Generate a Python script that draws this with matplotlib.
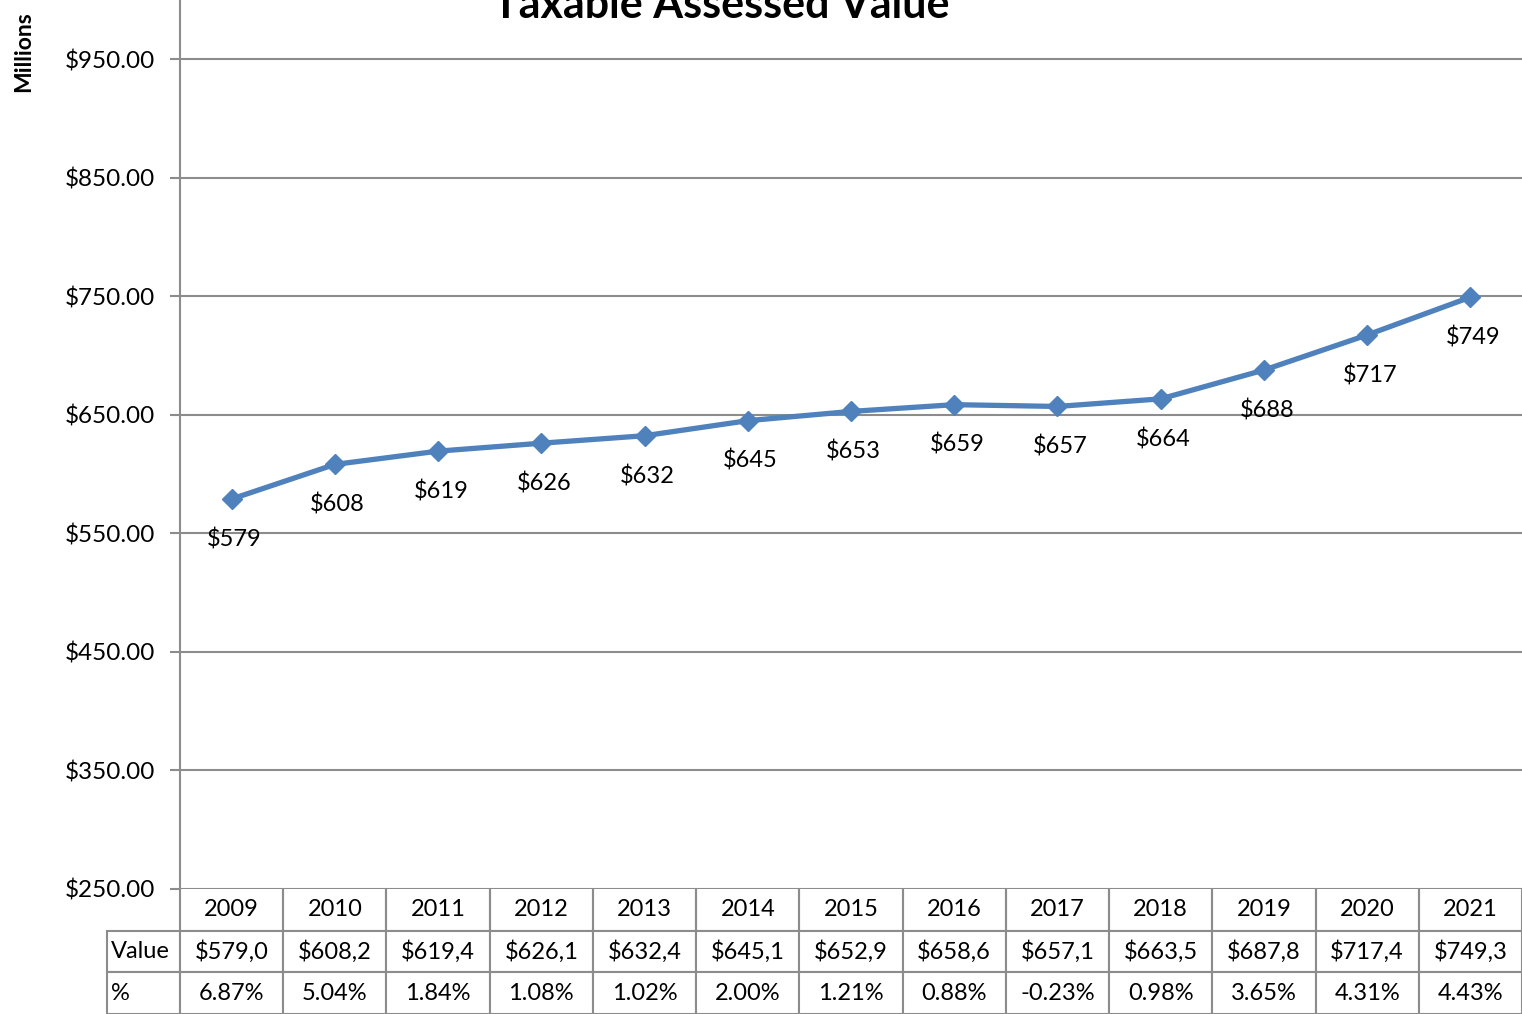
import matplotlib
matplotlib.use("Agg")
import matplotlib.pyplot as plt

years = ["2009", "2010", "2011", "2012", "2013", "2014", "2015", "2016",
         "2017", "2018", "2019", "2020", "2021"]
values = [579.0, 608.2, 619.4, 626.1, 632.4, 645.1, 652.9, 658.6,
          657.1, 663.5, 687.8, 717.4, 749.3]
value_text = ["$579,0", "$608,2", "$619,4", "$626,1", "$632,4", "$645,1", "$652,9",
              "$658,6", "$657,1", "$663,5", "$687,8", "$717,4", "$749,3"]
pct_text = ["6.87%", "5.04%", "1.84%", "1.08%", "1.02%", "2.00%", "1.21%",
            "0.88%", "-0.23%", "0.98%", "3.65%", "4.31%", "4.43%"]
yticks = [250, 350, 450, 550, 650, 750, 850, 950]

FONT = "Lato"
plt.rcParams["font.family"] = [FONT, "DejaVu Sans"]

W, H = 1522, 1014
fig = plt.figure(figsize=(W / 100, H / 100), dpi=100)
ax_left, ax_right = 180 / W, 1.0
ax_bottom, ax_top = (H - 889) / H, 1.0
ax = fig.add_axes([ax_left, ax_bottom, ax_right - ax_left, ax_top - ax_bottom])

x = list(range(len(years)))
line_color = "#4F81BD"
grid_color = "#8C8C8C"
ax.plot(x, values, color=line_color, lw=3.8, marker="D", ms=10,
        markerfacecolor=line_color, markeredgecolor=line_color, zorder=3,
        solid_joinstyle="round")
for xi, v in zip(x, values):
    ax.annotate(f"${v:.0f}", (xi, v), xytext=(2, -29), textcoords="offset points",
                ha="center", va="center", fontsize=17, color="black")

ax.set_xlim(-0.5, len(years) - 0.5)
ax.set_ylim(250, 1000)
ax.set_yticks(yticks)
ax.set_yticklabels([f"${t:.2f}" for t in yticks], fontsize=17.5)
ax.yaxis.grid(True, color=grid_color, lw=1.5)
ax.set_axisbelow(True)
ax.set_xticks([])
ax.tick_params(axis="y", length=7, width=1.5, color=grid_color, pad=11)
for s in ["top", "right", "bottom"]:
    ax.spines[s].set_visible(False)
ax.spines["left"].set_color(grid_color)
ax.spines["left"].set_linewidth(1.5)

# data table
ncols = len(years)
ax_w_px = W - 180
ax_h_px = 889
label_w = 73
cell_w = ax_w_px / ncols
cell_text = [[""] + years, ["Value"] + value_text, ["%"] + pct_text]
col_widths = [label_w / (ax_w_px + label_w)] + [cell_w / (ax_w_px + label_w)] * ncols
tbl = ax.table(cellText=cell_text, colWidths=col_widths, cellLoc="center",
               bbox=[-label_w / ax_w_px, -125 / ax_h_px, (ax_w_px + label_w) / ax_w_px, 125 / ax_h_px])
tbl.auto_set_font_size(False)
tbl.set_fontsize(17)
for (r, c), cell in tbl.get_celld().items():
    cell.set_edgecolor(grid_color)
    cell.set_linewidth(1.5)
    cell.set_facecolor("white")
    if c == 0:
        cell.get_text().set_ha("left")
        cell.PAD = 0.05
    if r == 0 and c == 0:
        cell.visible_edges = ""
    elif r == 0:
        cell.visible_edges = "LRB"

fig.text(721 / W, 1 - 18 / H, "Taxable Assessed Value", ha="center", va="baseline",
         fontsize=31, fontweight="bold")
fig.text(24 / W, 1 - 52 / H, "Millions", ha="center", va="center", rotation=90,
         fontsize=16.5, fontweight="bold")

fig.savefig("out.png", dpi=100)
